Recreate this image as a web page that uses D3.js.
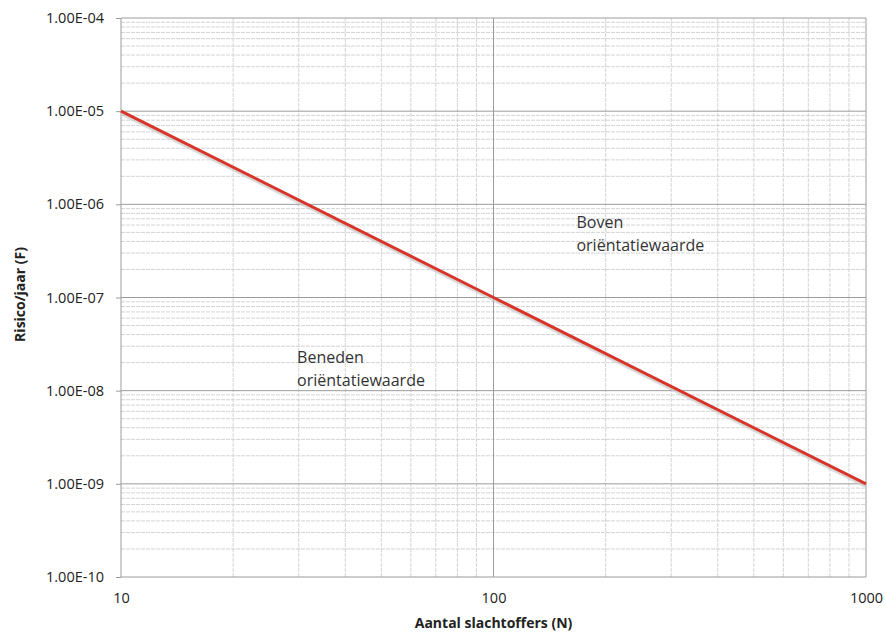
<!DOCTYPE html>
<meta charset="utf-8">
<style>
body { margin: 0; background: #fff; }
text { font-family: "Open Sans", "Noto Sans", sans-serif; fill: #222; }
.grid-major line { stroke: #9c9c9c; stroke-width: 1; }
.grid-minor line { stroke: #d4d4d4; stroke-width: 1; stroke-dasharray: 4,1; }
.axis path, .axis line { stroke: #9a9a9a; }
.axis text { font-size: 14.5px; }
.title { font-size: 14px; font-weight: bold; }
.note { font-size: 16px; fill: #333; }
.line { fill: none; stroke: #d8352a; stroke-width: 3; }
.shadow { fill: none; stroke: #c9c9c9; stroke-width: 3; opacity: 0.7; }
</style>
<body></body>
<script src="https://d3js.org/d3.v7.min.js"></script>
<script>
// data
var slachtoffers = [10, 100, 1000];
var risico = [1e-5, 1e-7, 1e-9];
var xTicks = [10, 100, 1000];
var yTicks = [1e-4, 1e-5, 1e-6, 1e-7, 1e-8, 1e-9, 1e-10];
var notes = [
  {n: 167, f: 5.6e-7, lines: ["Boven", "oriëntatiewaarde"]},
  {n: 29.7, f: 2e-8, lines: ["Beneden", "oriëntatiewaarde"]}
];

var margin = {top: 18, right: 19, bottom: 58, left: 121},
    width = 885 - margin.left - margin.right,
    height = 635 - margin.top - margin.bottom;

var x = d3.scaleLog().domain([10, 1000]).range([0, width]);
var y = d3.scaleLog().domain([1e-10, 1e-4]).range([height, 0]);

var svg = d3.select("body").append("svg")
    .attr("width", 885)
    .attr("height", 635)
  .append("g")
    .attr("transform", "translate(" + margin.left + "," + margin.top + ")");

// minor grid
var xMinor = x.ticks().filter(function(d) { return xTicks.indexOf(d) < 0; });
var yMinor = y.ticks().filter(function(d) { return yTicks.every(function(t) { return Math.abs(t - d) / t > 1e-6; }); });

var gm = svg.append("g").attr("class", "grid-minor");
gm.selectAll(".v").data(xMinor).enter().append("line")
    .attr("x1", function(d) { return x(d); }).attr("x2", function(d) { return x(d); })
    .attr("y1", 0).attr("y2", height);
gm.selectAll(".h").data(yMinor).enter().append("line")
    .attr("x1", 0).attr("x2", width)
    .attr("y1", function(d) { return y(d); }).attr("y2", function(d) { return y(d); });

// major grid
var gM = svg.append("g").attr("class", "grid-major");
gM.selectAll(".v").data(xTicks).enter().append("line")
    .attr("x1", function(d) { return x(d); }).attr("x2", function(d) { return x(d); })
    .attr("y1", 0).attr("y2", height);
gM.selectAll(".h").data(yTicks).enter().append("line")
    .attr("x1", 0).attr("x2", width)
    .attr("y1", function(d) { return y(d); }).attr("y2", function(d) { return y(d); });

// axes
svg.append("g")
    .attr("class", "axis")
    .attr("transform", "translate(0," + height + ")")
    .call(d3.axisBottom(x).tickValues(xTicks).tickFormat(d3.format("d")).tickSize(0).tickPadding(16))
    .call(function(g) { g.select(".domain").remove(); });

svg.append("g")
    .attr("class", "axis")
    .call(d3.axisLeft(y).tickValues(yTicks).tickSize(5).tickPadding(12)
      .tickFormat(function(d) {
        var e = Math.round(Math.log10(d));
        return "1.00E-" + (-e < 10 ? "0" : "") + (-e);
      }))
    .call(function(g) { g.select(".domain").remove(); });

// axis titles
svg.append("text")
    .attr("class", "title")
    .attr("x", width / 2)
    .attr("y", height + 51)
    .attr("text-anchor", "middle")
    .text("Aantal slachtoffers (N)");

svg.append("text")
    .attr("class", "title")
    .attr("transform", "rotate(-90)")
    .attr("x", -height / 2 + 3)
    .attr("y", -96)
    .attr("text-anchor", "middle")
    .text("Risico/jaar (F)");

// line
var line = d3.line()
    .x(function(d, i) { return x(slachtoffers[i]); })
    .y(function(d) { return y(d); });

svg.append("path")
    .datum(risico)
    .attr("class", "shadow")
    .attr("transform", "translate(1,3)")
    .attr("d", line);

svg.append("path")
    .datum(risico)
    .attr("class", "line")
    .attr("d", line);

// annotations
notes.forEach(function(n) {
  var t = svg.append("text")
      .attr("class", "note")
      .attr("x", x(n.n))
      .attr("y", y(n.f));
  n.lines.forEach(function(s, i) {
    t.append("tspan").attr("x", x(n.n)).attr("dy", i ? 23 : 0).text(s);
  });
});
</script>
